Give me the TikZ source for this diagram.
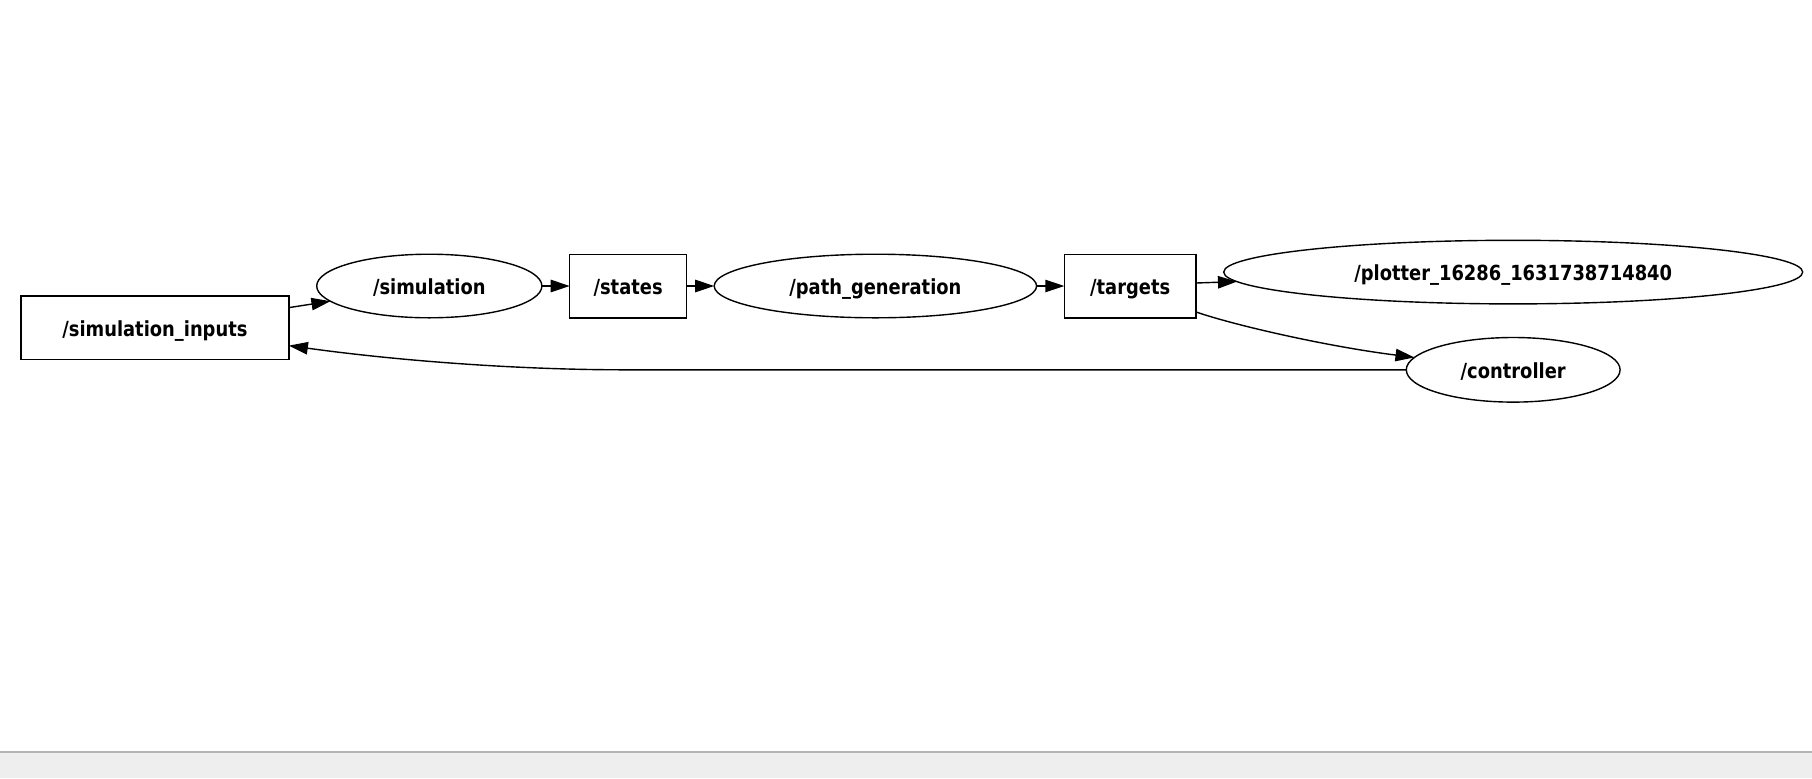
\documentclass[tikz,border=0pt]{standalone}
\usepackage{fontspec}
\setmainfont{DejaVu Sans}[FakeStretch=0.86]
\usetikzlibrary{shapes.geometric,arrows.meta}
\begin{document}
\begin{tikzpicture}[x=0.5pt,y=-0.5pt,
  every node/.style={font=\fontsize{10.4pt}{12pt}\selectfont\bfseries, inner sep=0pt, outer sep=0pt, draw, line width=0.7pt, text height=8.4pt, text depth=0pt},
  boxnode/.style={rectangle, minimum height=31.8pt},
  ellnode/.style={ellipse, minimum height=31.8pt},
  arr/.style={line width=0.7pt, -{Triangle[length=9.5pt,width=6.2pt]}}]
\useasboundingbox (0,0) rectangle (1812,778);
\fill[fill={rgb,255:red,238;green,238;blue,238}] (0,752) rectangle (1812,778);
\draw[line width=0.8pt, draw={rgb,255:red,180;green,180;blue,180}] (0,752) -- (1812,752);

\node[boxnode, minimum width=134pt] (siminp) at (154.9,327.6) {/simulation\_inputs};
\node[ellnode, minimum width=112.6pt] (simulation) at (429.3,286.0) {/simulation};
\node[boxnode, minimum width=58.4pt] (states) at (628.1,286.0) {/states};
\node[ellnode, minimum width=161.2pt] (pathgen) at (875.4,286.0) {/path\_generation};
\node[boxnode, minimum width=65.9pt] (targets) at (1130.2,286.0) {/targets};
\node[ellnode, minimum width=289.5pt] (plotter) at (1513.2,272.1) {/plotter\_16286\_1631738714840};
\node[ellnode, minimum width=106.9pt, minimum height=32.3pt] (controller) at (1513.2,369.8) {/controller};

\coordinate (bend) at (624,369.8);

\draw[arr] ([yshift=10pt]siminp.east) -- (simulation);
\draw[arr] (simulation) -- (states);
\draw[arr] (states) -- (pathgen);
\draw[arr] (pathgen) -- (targets);
\draw[arr] ([yshift=1.5pt]targets.east) -- (plotter);
\draw[arr] ([yshift=-13pt]targets.east) .. controls (1236.6,325.9) and (1329,346.7) .. (controller);
\draw[arr] (controller.west) -- (bend) .. controls (520,369.8) and (400,361) .. ([yshift=-9pt]siminp.east);
\end{tikzpicture}
\end{document}
